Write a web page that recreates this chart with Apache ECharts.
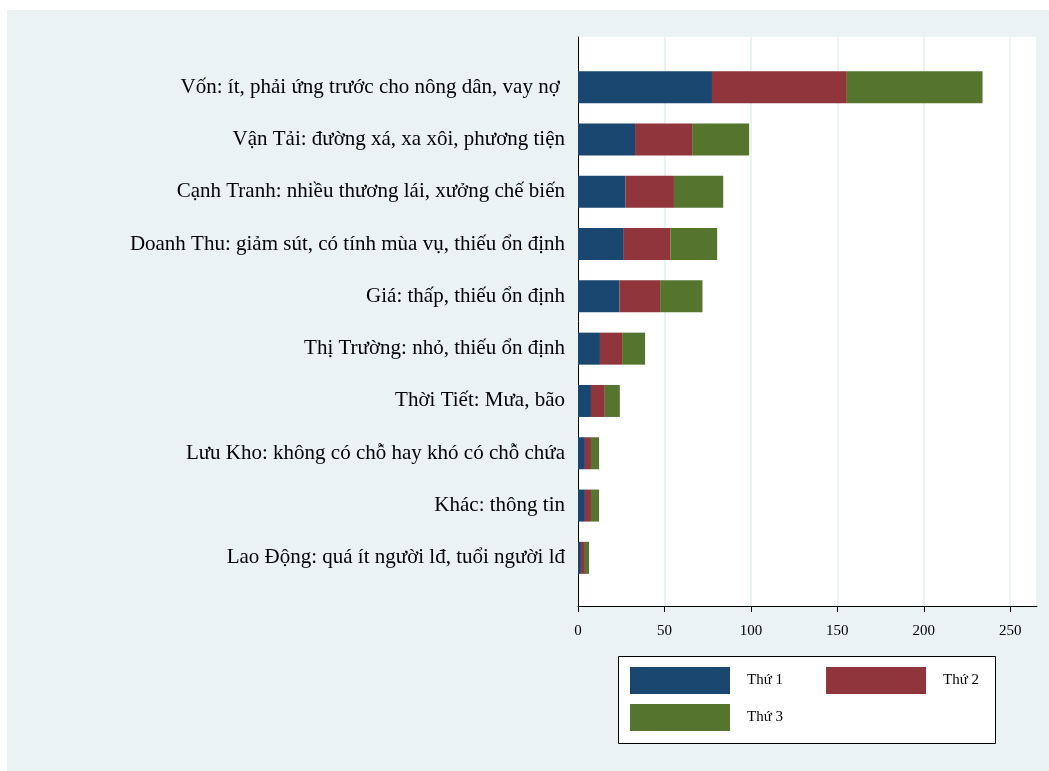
<!DOCTYPE html>
<html>
<head>
<meta charset="utf-8">
<script src="https://cdn.jsdelivr.net/npm/echarts@6/dist/echarts.min.js"></script>
<style>
html,body{margin:0;padding:0;background:#fff;}
#c{width:1049px;height:771px;}
</style>
</head>
<body>
<div id="c"></div>
<script>
const categories = [
  "Vốn: ít, phải ứng trước cho nông dân, vay nợ ",
  "Vận Tải: đường xá, xa xôi, phương tiện",
  "Cạnh Tranh: nhiều thương lái, xưởng chế biến",
  "Doanh Thu: giảm sút, có tính mùa vụ, thiếu ổn định",
  "Giá: thấp, thiếu ổn định",
  "Thị Trường: nhỏ, thiếu ổn định",
  "Thời Tiết: Mưa, bão",
  "Lưu Kho: không có chỗ hay khó có chỗ chứa",
  "Khác: thông tin",
  "Lao Động: quá ít người lđ, tuổi người lđ"
];
const seriesNames = ["Thứ 1", "Thứ 2", "Thứ 3"];
const thu1 = [77.5, 33, 27.5, 26.5, 24, 12.7, 7.5, 4, 4, 1.7];
const thu2 = [78, 33, 28, 27, 23.5, 12.8, 8, 3.5, 3.5, 2.3];
const thu3 = [78.5, 33, 28.5, 27, 24.5, 13.3, 8.7, 4.7, 4.7, 2.4];
const xTicks = [0, 50, 100, 150, 200, 250];

const colors = ["#1a476f", "#90353b", "#55752f"];
const FONT = "Liberation Serif";

const chart = echarts.init(document.getElementById('c'), null, {renderer: 'canvas'});
const seriesData = [thu1, thu2, thu3];

const legendCommon = {
  orient: 'horizontal', padding: 0,
  itemWidth: 100, itemHeight: 27, itemGap: 43,
  icon: 'rect', selectedMode: false,
  textStyle: {fontFamily: FONT, fontSize: 15, color: '#000', padding: [4, 0, 0, 12]}
};

chart.setOption({
  backgroundColor: '#ffffff',
  animation: false,
  color: colors,
  graphic: [
    {
      type: 'rect', z: -10, silent: true,
      shape: {x: 7, y: 10, width: 1042, height: 761},
      style: {fill: '#eaf2f3'}
    },
    {
      type: 'rect', z: -5, silent: true,
      shape: {x: 618.5, y: 656.5, width: 377, height: 87},
      style: {fill: '#ffffff', stroke: '#000', lineWidth: 1}
    }
  ],
  grid: [
    {left: 578, top: 37, width: 459, height: 569, show: true, backgroundColor: '#ffffff', borderWidth: 0},
    {left: 578, top: 61, width: 459, height: 523, show: false}
  ],
  xAxis: [
    {
      type: 'value', gridIndex: 0, min: 0, max: 265.5, interval: 50,
      axisLine: {show: true, lineStyle: {color: '#000', width: 1}},
      axisTick: {show: true, length: 6, lineStyle: {color: '#000'}},
      axisLabel: {
        color: '#000', fontFamily: FONT, fontSize: 15, margin: 18,
        showMaxLabel: false,
        formatter: v => xTicks.indexOf(v) >= 0 ? String(v) : ''
      },
      splitLine: {show: true, lineStyle: {color: '#eaf2f3', width: 2}}
    },
    {
      type: 'value', gridIndex: 1, min: 0, max: 265.5, show: false
    }
  ],
  yAxis: [
    {
      type: 'value', gridIndex: 0, min: 0, max: 1,
      axisLine: {show: true, lineStyle: {color: '#000', width: 1}},
      axisTick: {show: false}, axisLabel: {show: false}, splitLine: {show: false}
    },
    {
      type: 'category', gridIndex: 1, inverse: true, data: categories,
      axisLine: {show: false}, axisTick: {show: false},
      axisLabel: {color: '#000', fontFamily: FONT, fontSize: 21, margin: 13, padding: [3, 0, 0, 0]},
      splitLine: {show: false}
    }
  ],
  legend: [
    Object.assign({}, legendCommon, {left: 630, top: 667, data: [seriesNames[0], seriesNames[1]]}),
    Object.assign({}, legendCommon, {left: 630, top: 704, data: [seriesNames[2]]})
  ],
  series: seriesNames.map((n, i) => ({
    name: n, type: 'bar', stack: 'total',
    xAxisIndex: 1, yAxisIndex: 1,
    barWidth: 32,
    itemStyle: {color: colors[i]},
    data: seriesData[i]
  }))
});
</script>
</body>
</html>
